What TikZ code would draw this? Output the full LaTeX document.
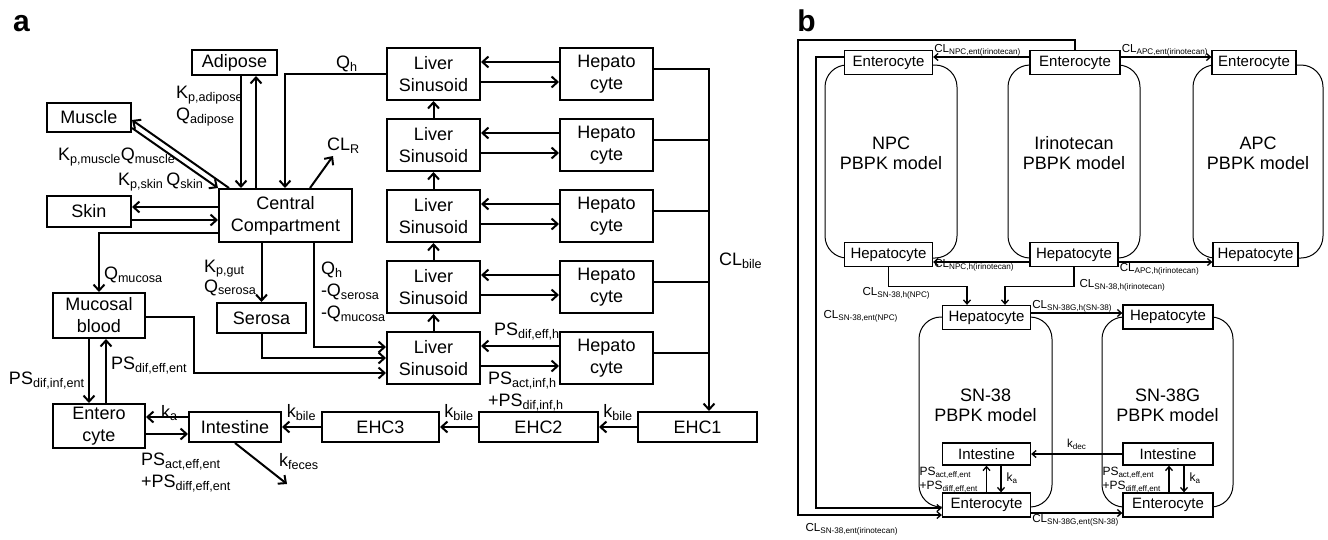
\documentclass[tikz,border=0pt]{standalone}
\usepackage{fontspec}
\setmainfont{Liberation Sans}
\usetikzlibrary{arrows.meta}
\begin{document}
\begin{tikzpicture}[x=1pt,y=-1pt,line width=2pt,>={Straight Barb[length=6pt,width=11pt]},
    box/.style={draw,align=center,inner sep=0pt,font=\fontsize{18}{22}\selectfont},
    lab/.style={inner sep=0pt,align=left,font=\fontsize{18}{22}\selectfont},
    cell/.style={draw,fill=white,line width=1.3pt,inner sep=0pt,minimum width=88pt,minimum height=24pt,font=\fontsize{15}{18}\selectfont},
    model/.style={draw,line width=1pt,rounded corners=22pt,inner sep=0pt},
    mtext/.style={align=center,inner sep=0pt,font=\fontsize{18}{20}\selectfont},
    cl/.style={inner sep=0.5pt,align=left,font=\fontsize{11.6}{14}\selectfont},
    panel/.style={inner sep=0pt,font=\fontsize{30}{30}\selectfont\bfseries}]
    \useasboundingbox (0,0) rectangle (1328,539);

    \node[panel] (pa) at (21.5,23.5) {a};
    \node[box,minimum width=85pt,minimum height=25pt] (adip) at (234.5,62.5) {Adipose};
    \node[box,minimum width=84pt,minimum height=29pt] (musc) at (89,117.5) {Muscle};
    \node[box,minimum width=84pt,minimum height=31pt] (skin) at (89,211.5) {Skin};
    \node[box,minimum width=133pt,minimum height=53pt] (cent) at (285.5,215.5) {Central\\Compartment};
    \node[box,minimum width=92pt,minimum height=45pt] (mucb) at (99,315.5) {Mucosal\\blood};
    \node[box,minimum width=89pt,minimum height=30pt] (sero) at (261.5,318) {Serosa};
    \node[box,minimum width=92pt,minimum height=44pt] (ente) at (99,426) {Entero\\cyte};
    \node[box,minimum width=92pt,minimum height=30pt] (intes) at (235,427) {Intestine};
    \node[box,minimum width=117pt,minimum height=30pt] (ehc3) at (380.5,427) {EHC3};
    \node[box,minimum width=119pt,minimum height=30pt] (ehc2) at (538.5,427) {EHC2};
    \node[box,minimum width=119pt,minimum height=30pt] (ehc1) at (697.5,427) {EHC1};

    \foreach \i/\y in {1/74,2/145,3/216,4/287,5/358}{
        \node[box,minimum width=93pt,minimum height=52pt] (ls\i) at (433.5,\y) {Liver\\Sinusoid};
        \node[box,minimum width=93pt,minimum height=52pt] (hep\i) at (606.5,\y) {Hepato\\cyte};
        \draw[->] ([yshift=12pt]hep\i.west) -- ([yshift=12pt]ls\i.east);
        \draw[->] ([yshift=-8pt]ls\i.east) -- ([yshift=-8pt]hep\i.west);
        \draw ([yshift=5pt]hep\i.east) -- ++(56,0);
    }
    \foreach \i/\j in {2/1,3/2,4/3,5/4}
        \draw[->] (ls\i.north) -- (ls\j.south);
    \draw[->] ([yshift=5pt]hep1.east) -| ([xshift=11.5pt]ehc1.north);

    \draw[->] (adip.south -| 241,0) -- (cent.north -| 241,0);
    \draw[->] (cent.north -| 256,0) -- (adip.south -| 256,0);
    \draw[->] ([xshift=11pt]cent.north west) -- ([yshift=-2.5pt]musc.east);
    \draw[->] ([yshift=-10.5pt]musc.east) -- (cent.north west);
    \draw[->] (cent.west |- 0,207) -- (skin.east |- 0,207);
    \draw[->] (skin.east |- 0,220) -- (cent.west |- 0,220);
    \draw[->] (cent.west |- 0,233) -| (mucb.north);
    \draw[->] (ls1.west) -| (cent.north -| 285,0);
    \draw[->] (cent.north -| 310,0) -- ++(23,-32);
    \draw[->] (cent.south -| sero.north) -- (sero.north);
    \draw[->] (cent.south -| 314,0) |- (ls5.west |- 0,347);
    \draw[->] (sero.south) |- (ls5.west |- 0,358);
    \draw[->] (mucb.east |- 0,317) -- ++(48,0) |- (ls5.west |- 0,373);
    \draw[->] (mucb.south -| 89,0) -- (ente.north -| 89,0);
    \draw[->] (ente.north -| 106,0) -- (mucb.south -| 106,0);
    \draw[->] (intes.west |- 0,417) -- (ente.east |- 0,417);
    \draw[->] (ente.east |- 0,434) -- (intes.west |- 0,434);
    \draw[->] (intes.south) -- ++(52,41);
    \draw[->] (ehc3) -- node[lab,above=5pt] (kb3) {k\textsubscript{bile}} (intes);
    \draw[->] (ehc2) -- node[lab,above=5pt] (kb2) {k\textsubscript{bile}} (ehc3);
    \draw[->] (ehc1) -- node[lab,above=5pt] (kb1) {k\textsubscript{bile}} (ehc2);

    \node[lab,anchor=north west] (kadip) at (175,85) {K\textsubscript{p,adipose}\\Q\textsubscript{adipose}};
    \node[lab,anchor=north west] (kmusc) at (57,147) {K\textsubscript{p,muscle}Q\textsubscript{muscle}};
    \node[lab,anchor=north west] (kskin) at (117,172) {K\textsubscript{p,skin}\,Q\textsubscript{skin}};
    \node[lab,anchor=north west] (qh) at (335,55) {Q\textsubscript{h}};
    \node[lab,anchor=north west] (clr) at (326,137) {CL\textsubscript{R}};
    \node[lab,anchor=north west] (qmuc) at (103,266) {Q\textsubscript{mucosa}};
    \node[lab,anchor=north west,font=\fontsize{18}{20}\selectfont] (kgut) at (203,259) {K\textsubscript{p,gut}\\Q\textsubscript{serosa}};
    \node[lab,anchor=north west] (qrest) at (320,261) {Q\textsubscript{h}\\-Q\textsubscript{serosa}\\-Q\textsubscript{mucosa}};
    \node[lab,anchor=north west] (psinf) at (8,371) {PS\textsubscript{dif,inf,ent}};
    \node[lab,anchor=north west] (pseff) at (110,356) {PS\textsubscript{dif,eff,ent}};
    \node[lab,anchor=north west] (ka) at (160,404) {k\textsubscript{a}};
    \node[lab,anchor=north west] (psent) at (140,452) {PS\textsubscript{act,eff,ent}\\+PS\textsubscript{diff,eff,ent}};
    \node[lab,anchor=north west] (kfec) at (278,452) {k\textsubscript{feces}};
    \node[lab,anchor=north west] (pshe) at (493,322) {PS\textsubscript{dif,eff,h}};
    \node[lab,anchor=north west] (pshi) at (487,371) {PS\textsubscript{act,inf,h}\\+PS\textsubscript{dif,inf,h}};
    \node[lab,anchor=north west] (clb) at (718,252) {CL\textsubscript{bile}};

    \node[panel] (pb) at (806.5,21) {b};
    \node[model,minimum width=132pt,minimum height=193pt] (mnpc) at (891,161.5) {};
    \node[model,minimum width=132pt,minimum height=193pt] (mirn) at (1074,161.5) {};
    \node[model,minimum width=130pt,minimum height=193pt] (mapc) at (1258,161.5) {};
    \node[model,minimum width=133pt,minimum height=190pt] (msn) at (985.5,412) {};
    \node[model,minimum width=131pt,minimum height=190pt] (msng) at (1167.5,412) {};
    \node[mtext] (tnpc) at (891,153) {NPC\\PBPK model};
    \node[mtext] (tirn) at (1074,153) {Irinotecan\\PBPK model};
    \node[mtext] (tapc) at (1258,153) {APC\\PBPK model};
    \node[mtext] (tsn) at (985.5,405) {SN-38\\PBPK model};
    \node[mtext] (tsng) at (1167.5,405) {SN-38G\\PBPK model};

    \node[cell] (nent) at (888.5,62.5) {Enterocyte};
    \node[cell] (nhep) at (888.5,254.5) {Hepatocyte};
    \node[cell,minimum width=90pt] (ient) at (1075,62.5) {Enterocyte};
    \node[cell] (ihep) at (1074,254.5) {Hepatocyte};
    \node[cell,minimum width=84pt] (aent) at (1254,62.5) {Enterocyte};
    \node[cell,minimum width=85pt] (ahep) at (1255.5,254.5) {Hepatocyte};
    \node[cell] (shep) at (986.5,317.5) {Hepatocyte};
    \node[cell,minimum height=22pt] (sint) at (986.5,454) {Intestine};
    \node[cell] (sent) at (986.5,505) {Enterocyte};
    \node[cell,minimum width=90pt] (ghep) at (1168,317) {Hepatocyte};
    \node[cell,minimum width=90pt,minimum height=22pt] (gint) at (1168,454) {Intestine};
    \node[cell,minimum width=90pt] (gent) at (1168,505) {Enterocyte};

    \begin{scope}[line width=1.3pt,>={Straight Barb[length=4pt,width=7pt]}]
    \draw[->] (ient.west |- 0,57) -- node[cl,pos=1,anchor=south west] (clne) {CL\textsubscript{NPC,ent(irinotecan)}} (nent.east |- 0,57);
    \draw[->] (ient.east |- 0,57) -- node[cl,pos=0,anchor=south west] (clae) {CL\textsubscript{APC,ent(irinotecan)}} (aent.west |- 0,57);
    \draw[->] (ihep.west |- 0,262) -- node[cl,pos=1,anchor=north west,yshift=4pt] (clnh) {CL\textsubscript{NPC,h(irinotecan)}} (nhep.east |- 0,262);
    \draw[->] (ihep.east |- 0,262) -- node[cl,pos=0,anchor=north west] (clah) {CL\textsubscript{APC,h(irinotecan)}} (ahep.west |- 0,262);
    \draw[->] (ihep.south) -- ++(0,19) -| ([xshift=18.5pt]shep.north);
    \draw[->] (nhep.south) -- ++(0,19) -| ([xshift=-19.5pt]shep.north);
    \draw[->] (shep.east |- 0,313) -- node[cl,pos=0,anchor=south west] (clgh) {CL\textsubscript{SN-38G,h(SN-38)}} (ghep.west |- 0,313);
    \draw[->] (sent.east |- 0,513) -- node[cl,pos=0,anchor=north west] (clge) {CL\textsubscript{SN-38G,ent(SN-38)}} (gent.west |- 0,513);
    \draw[->] (gint) -- node[cl,above=3pt] (kdec) {k\textsubscript{dec}} (sint);
    \draw[->] (sent.north) -- (sint.south);
    \draw[->] ([xshift=14.5pt]sint.south) -- ([xshift=14.5pt]sent.north);
    \draw[->] ([xshift=1pt]gent.north) -- ([xshift=1pt]gint.south);
    \draw[->] ([xshift=16pt]gint.south) -- ([xshift=16pt]gent.north);
    \coordinate (otop) at (798,40);
    \draw[->] (ient.north) |- (otop) |- ([yshift=-10pt]sent.west);
    \draw[->] (nent.west |- 0,57) -- ++(-28,0) |- ([yshift=-3pt]sent.west);
    \end{scope}

    \node[cl,anchor=west,font=\fontsize{12}{14}\selectfont] (kas) at (1005,478) {k\textsubscript{a}};
    \node[cl,anchor=west,font=\fontsize{12}{14}\selectfont] (kag) at (1188,478) {k\textsubscript{a}};
    \node[cl,anchor=west,font=\fontsize{12}{14}\selectfont] (pss) at (918,480) {PS\textsubscript{act,eff,ent}\\+PS\textsubscript{diff,eff,ent}};
    \node[cl,anchor=west,font=\fontsize{12}{14}\selectfont] (psg) at (1101,480) {PS\textsubscript{act,eff,ent}\\+PS\textsubscript{diff,eff,ent}};
    \node[cl,anchor=west] (clsh) at (861,293) {CL\textsubscript{SN-38,h(NPC)}};
    \node[cl,anchor=west] (clsi) at (1078,285) {CL\textsubscript{SN-38,h(irinotecan)}};
    \node[cl,anchor=west] (clsen) at (822,316) {CL\textsubscript{SN-38,ent(NPC)}};
    \node[cl,anchor=west] (clsei) at (804,529) {CL\textsubscript{SN-38,ent(irinotecan)}};
\end{tikzpicture}
\end{document}
